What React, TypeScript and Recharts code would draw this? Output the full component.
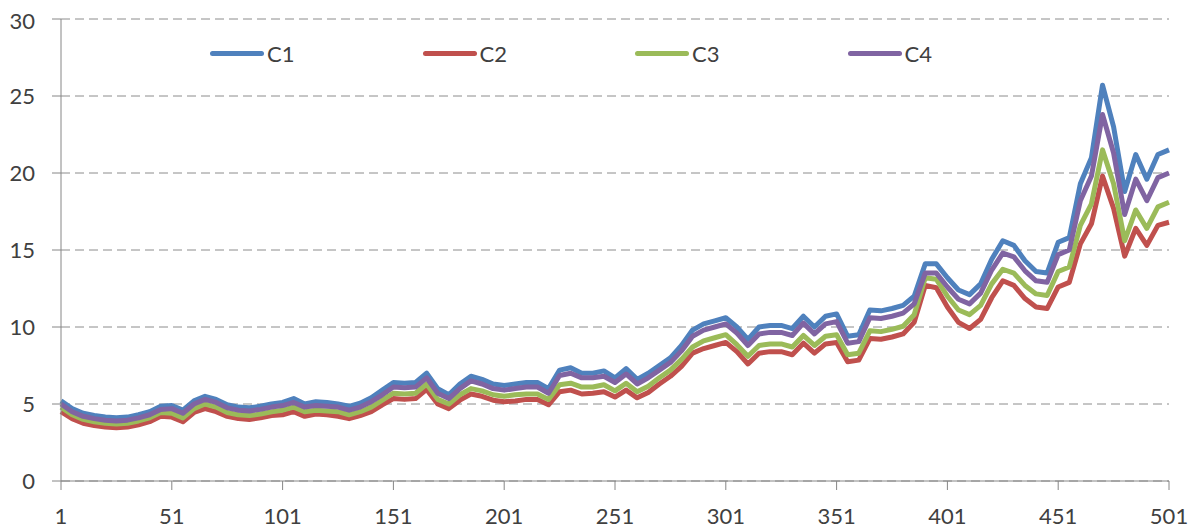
import { CartesianGrid, Legend, Line, LineChart, XAxis, YAxis } from 'recharts';

// sampled every 5 steps: 1, 6, 11, ... 501
const STEPS = Array.from({ length: 101 }, (_, k) => 1 + k * 5);

const C1 = [
  5.2, 4.7, 4.4, 4.25, 4.15, 4.1, 4.15, 4.3, 4.5, 4.85,
  4.9, 4.6, 5.2, 5.5, 5.3, 4.95, 4.8, 4.75, 4.85, 5.0,
  5.1, 5.35, 5.0, 5.15, 5.1, 5.0, 4.85, 5.05, 5.4, 5.9,
  6.4, 6.35, 6.4, 7.0, 6.0, 5.6, 6.3, 6.8, 6.6, 6.3,
  6.2, 6.3, 6.4, 6.4, 6.0, 7.2, 7.35, 7.0, 7.0, 7.15,
  6.7, 7.3, 6.6, 7.0, 7.5, 8.0, 8.8, 9.8, 10.2, 10.4,
  10.6, 10.0, 9.2, 10.0, 10.1, 10.1, 9.9, 10.7, 10.0, 10.7,
  10.85, 9.4, 9.5, 11.1, 11.05, 11.2, 11.4, 12.0, 14.1, 14.1,
  13.2, 12.4, 12.1, 12.8, 14.4, 15.6, 15.3, 14.3, 13.6, 13.5,
  15.5, 15.8, 19.3, 21.0, 25.7, 23.0, 18.8, 21.2, 19.6, 21.2,
  21.5,
];

const C2 = [
  4.5, 4.05, 3.75, 3.6, 3.5, 3.45, 3.5, 3.65, 3.85, 4.2,
  4.15, 3.85, 4.45, 4.7, 4.5, 4.2, 4.05, 4.0, 4.1, 4.25,
  4.3, 4.5, 4.2, 4.35, 4.3, 4.2, 4.05, 4.25, 4.5, 4.95,
  5.35, 5.3, 5.35, 5.95, 5.0, 4.7, 5.25, 5.65, 5.5, 5.25,
  5.15, 5.2, 5.3, 5.3, 4.95, 5.8, 5.9, 5.65, 5.7, 5.8,
  5.45, 5.9, 5.4, 5.75, 6.3, 6.8, 7.45, 8.3, 8.6, 8.8,
  9.0, 8.4, 7.6, 8.3, 8.4, 8.4, 8.2, 8.95, 8.3, 8.9,
  9.0, 7.75, 7.85, 9.25, 9.2, 9.35, 9.55, 10.3, 12.7, 12.55,
  11.3, 10.3, 9.9, 10.5, 11.9, 13.0, 12.7, 11.85, 11.3, 11.2,
  12.6, 12.9, 15.4, 16.7, 19.8, 17.7, 14.6, 16.4, 15.3, 16.6,
  16.8,
];

const C3 = [
  4.8, 4.3, 4.0, 3.85, 3.75, 3.7, 3.75, 3.9, 4.1, 4.45,
  4.4, 4.1, 4.7, 5.0, 4.8, 4.45, 4.3, 4.25, 4.35, 4.5,
  4.6, 4.8, 4.5, 4.6, 4.55, 4.5, 4.3, 4.5, 4.8, 5.25,
  5.7, 5.65, 5.7, 6.3, 5.3, 5.0, 5.6, 6.0, 5.85, 5.6,
  5.5, 5.6, 5.65, 5.65, 5.3, 6.25, 6.35, 6.1, 6.1, 6.25,
  5.85, 6.35, 5.8, 6.15, 6.7, 7.2, 7.9, 8.7, 9.1, 9.3,
  9.5, 8.85, 8.1, 8.8, 8.9, 8.9, 8.7, 9.45, 8.8, 9.4,
  9.5, 8.2, 8.3, 9.75, 9.7, 9.85, 10.05, 10.8, 13.2, 13.1,
  12.0, 11.1, 10.8, 11.4, 12.8, 13.75, 13.5, 12.7, 12.15, 12.05,
  13.6, 13.9, 16.6, 18.0, 21.5, 19.3, 15.6, 17.6, 16.4, 17.8,
  18.1,
];

const C4 = [
  5.0, 4.5, 4.2, 4.05, 3.95, 3.9, 3.95, 4.1, 4.3, 4.65,
  4.7, 4.4, 5.0, 5.3, 5.1, 4.75, 4.6, 4.55, 4.65, 4.8,
  4.9, 5.1, 4.8, 4.9, 4.85, 4.8, 4.6, 4.8, 5.15, 5.6,
  6.1, 6.05, 6.1, 6.7, 5.7, 5.35, 6.0, 6.5, 6.3, 6.0,
  5.9, 6.0, 6.1, 6.1, 5.7, 6.85, 7.0, 6.7, 6.7, 6.8,
  6.4, 6.95, 6.3, 6.7, 7.2, 7.7, 8.45, 9.4, 9.8, 10.0,
  10.2, 9.6, 8.8, 9.55, 9.65, 9.65, 9.45, 10.25, 9.55, 10.2,
  10.35, 8.95, 9.05, 10.6, 10.55, 10.7, 10.9, 11.5, 13.5, 13.5,
  12.6, 11.8, 11.5, 12.2, 13.7, 14.8, 14.55, 13.65, 13.0, 12.9,
  14.7, 15.0, 18.2, 19.8, 23.8, 21.3, 17.3, 19.6, 18.2, 19.7,
  20.0,
];

const X_TICKS = [1, 51, 101, 151, 201, 251, 301, 351, 401, 451, 501];
const Y_TICKS = [0, 5, 10, 15, 20, 25, 30];

const SERIES = [
  { key: 'C1', color: '#4f81bd' },
  { key: 'C2', color: '#c0504d' },
  { key: 'C3', color: '#9bbb59' },
  { key: 'C4', color: '#8064a2' },
];

const data = STEPS.map((step, i) => ({ step, C1: C1[i], C2: C2[i], C3: C3[i], C4: C4[i] }));

const FONT = 'Lato, "Open Sans", sans-serif';
const AXIS_COLOR = '#868686';

// zero-height box so the legend doesn't push the plot down
function ChartLegend() {
  return (
    <div style={{ position: 'relative', height: 0 }}>
      {SERIES.map((s, i) => (
        <div
          key={s.key}
          style={{ position: 'absolute', left: 202 + i * 212.5, top: 0, display: 'flex', alignItems: 'center', height: 30 }}
        >
          <span style={{ width: 54, height: 5, borderRadius: 3, background: s.color, display: 'inline-block' }} />
          <span style={{ marginLeft: 3, fontSize: 22, color: '#404040', fontFamily: FONT }}>{s.key}</span>
        </div>
      ))}
    </div>
  );
}

export default function App() {
  return (
    <LineChart width={1183} height={523} data={data} margin={{ top: 11, right: 22, bottom: 20, left: 0 }}>
      <CartesianGrid vertical={false} stroke="#8c8c8c" strokeDasharray="9 5" />
      <XAxis
        dataKey="step"
        type="number"
        domain={[1, 501]}
        ticks={X_TICKS}
        interval={0}
        height={30}
        stroke={AXIS_COLOR}
        tickSize={9}
        tickMargin={18}
        tick={{ fontSize: 22, fill: '#404040', fontFamily: FONT }}
      />
      <YAxis
        domain={[0, 30]}
        ticks={Y_TICKS}
        width={53}
        stroke={AXIS_COLOR}
        tickSize={9}
        tickMargin={17}
        tick={{ fontSize: 22, fill: '#404040', fontFamily: FONT }}
      />
      <Legend
        verticalAlign="top"
        height={0}
        content={() => <ChartLegend />}
        wrapperStyle={{ top: 30, left: 0, width: 1183 }}
      />
      {SERIES.map((s) => (
        <Line
          key={s.key}
          dataKey={s.key}
          stroke={s.color}
          strokeWidth={5}
          strokeLinejoin="round"
          dot={false}
          type="linear"
          isAnimationActive={false}
        />
      ))}
    </LineChart>
  );
}
